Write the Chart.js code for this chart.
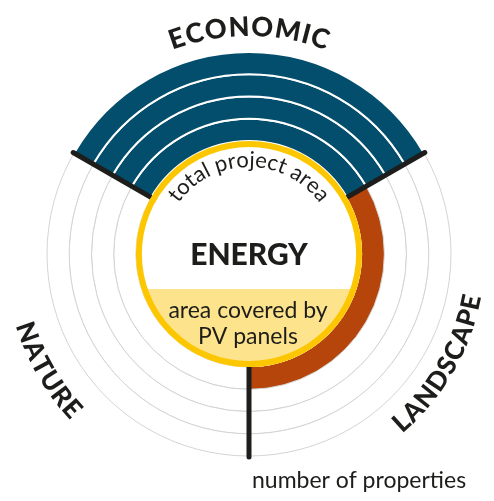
<!DOCTYPE html>
<html>
<head>
<meta charset="utf-8">
<script src="https://cdn.jsdelivr.net/npm/chart.js@4/dist/chart.umd.min.js"></script>
<style>
  html, body { margin: 0; padding: 0; background: #fff; }
  #wrap { width: 494px; height: 501px; position: relative; }
</style>
</head>
<body>
<div id="wrap"><canvas id="rings"></canvas></div>
<script>
// categorias e quantos aneis cada uma preenche
const categories = ['ECONOMIC', 'LANDSCAPE', 'NATURE'];
const scores = [4, 1, 0];
const levels = [1, 2, 3, 4]; // number of properties
const catColors = ['#034d6d', '#b5450b', '#034d6d'];

const ink = '#1d1d1b';
const grey = '#d4d4d4';
const yellow = '#fcc700';
const paleYellow = '#fde38c';
const fam = 'Lato';

// dataset 0 e o anel de fora
const ringDatasets = levels.slice().reverse().map(function (level) {
  return {
    label: 'level ' + level,
    data: categories.map(function () { return 1; }),
    backgroundColor: scores.map(function (s, i) { return s >= level ? catColors[i] : '#ffffff'; }),
    borderColor: scores.map(function (s, i) { return s >= level ? (i === 0 ? '#ffffff' : catColors[i]) : grey; }),
    borderWidth: scores.map(function (s, i) { return s >= level ? (i === 0 ? 2 : 0) : 1; })
  };
});

function arcText(ctx, text, cx, cy, r, mid, inward, spacing) {
  // mid = angulo em graus a partir do topo, sentido horario
  const widths = text.split('').map(function (ch) { return ctx.measureText(ch).width + spacing; });
  const total = widths.reduce(function (a, b) { return a + b; }, 0) - spacing;
  let a = mid * Math.PI / 180 + (inward ? total / 2 / r : -total / 2 / r);
  ctx.textAlign = 'center';
  ctx.textBaseline = 'alphabetic';
  text.split('').forEach(function (ch, k) {
    const half = (widths[k] - spacing) / 2 / r;
    a += inward ? -half : half;
    ctx.save();
    ctx.translate(cx + r * Math.sin(a), cy - r * Math.cos(a));
    ctx.rotate(inward ? a + Math.PI : a);
    ctx.fillText(ch, 0, 0);
    ctx.restore();
    a += inward ? -(half + spacing / r) : (half + spacing / r);
  });
}

const overlay = {
  id: 'overlay',
  afterDatasetsDraw(chart) {
    const ctx = chart.ctx;
    const arcs = chart.getDatasetMeta(0).data;
    const cx = arcs[0].x, cy = arcs[0].y;
    const outer = arcs[0].outerRadius;
    const inner = chart.getDatasetMeta(ringDatasets.length - 1).data[0].innerRadius;

    // linhas pretas nas divisas das categorias
    ctx.save();
    ctx.strokeStyle = ink;
    ctx.lineWidth = 5;
    ctx.lineCap = 'round';
    arcs.forEach(function (arc) {
      const t = arc.startAngle;
      ctx.beginPath();
      ctx.moveTo(cx + (inner - 2) * Math.cos(t), cy + (inner - 2) * Math.sin(t));
      ctx.lineTo(cx + (outer + 1) * Math.cos(t), cy + (outer + 1) * Math.sin(t));
      ctx.stroke();
    });

    // circulo do centro
    ctx.beginPath();
    ctx.arc(cx, cy, inner, 0, Math.PI * 2);
    ctx.fillStyle = '#ffffff';
    ctx.fill();
    ctx.save();
    ctx.clip();
    ctx.fillStyle = paleYellow;
    ctx.fillRect(cx - inner, cy + 35, inner * 2, inner);
    ctx.restore();
    ctx.beginPath();
    ctx.arc(cx, cy, inner - 3, 0, Math.PI * 2);
    ctx.strokeStyle = yellow;
    ctx.lineWidth = 6;
    ctx.stroke();

    // textos
    ctx.fillStyle = ink;
    ctx.font = '900 30px ' + fam;
    ctx.textAlign = 'center';
    ctx.textBaseline = 'middle';
    ctx.fillText('ENERGY', cx, cy + 1);
    ctx.font = '23px ' + fam;
    ctx.textBaseline = 'alphabetic';
    ctx.fillText('area covered by', cx - 1, cy + 64);
    ctx.fillText('PV panels', cx - 1, cy + 90);
    ctx.textAlign = 'left';
    ctx.fillText('number of properties', cx + 3, 488);

    ctx.font = '22px ' + fam;
    arcText(ctx, 'total project area', cx, cy, 87, 0, false, 0);

    ctx.font = '900 27px ' + fam;
    arcText(ctx, categories[0], cx, cy, 218, 0, false, 1);
    ctx.font = '900 26px ' + fam;
    arcText(ctx, categories[1], cx, cy, 236, 120, true, 1);
    arcText(ctx, categories[2], cx, cy, 244, 240, true, 1);
    ctx.restore();
  }
};

const ctx = document.getElementById('rings').getContext('2d');

const grafico = new Chart(ctx, {
  type: 'doughnut',
  data: {
    labels: categories,
    datasets: ringDatasets
  },
  options: {
    responsive: true,
    maintainAspectRatio: false,
    animation: false,
    rotation: -60,
    radius: 202,
    cutout: '56%',
    layout: { padding: { left: 44, right: 40, top: 47, bottom: 40 } },
    plugins: {
      legend: { display: false },
      tooltip: { enabled: false }
    },
    events: []
  },
  plugins: [overlay]
});
</script>
</body>
</html>
